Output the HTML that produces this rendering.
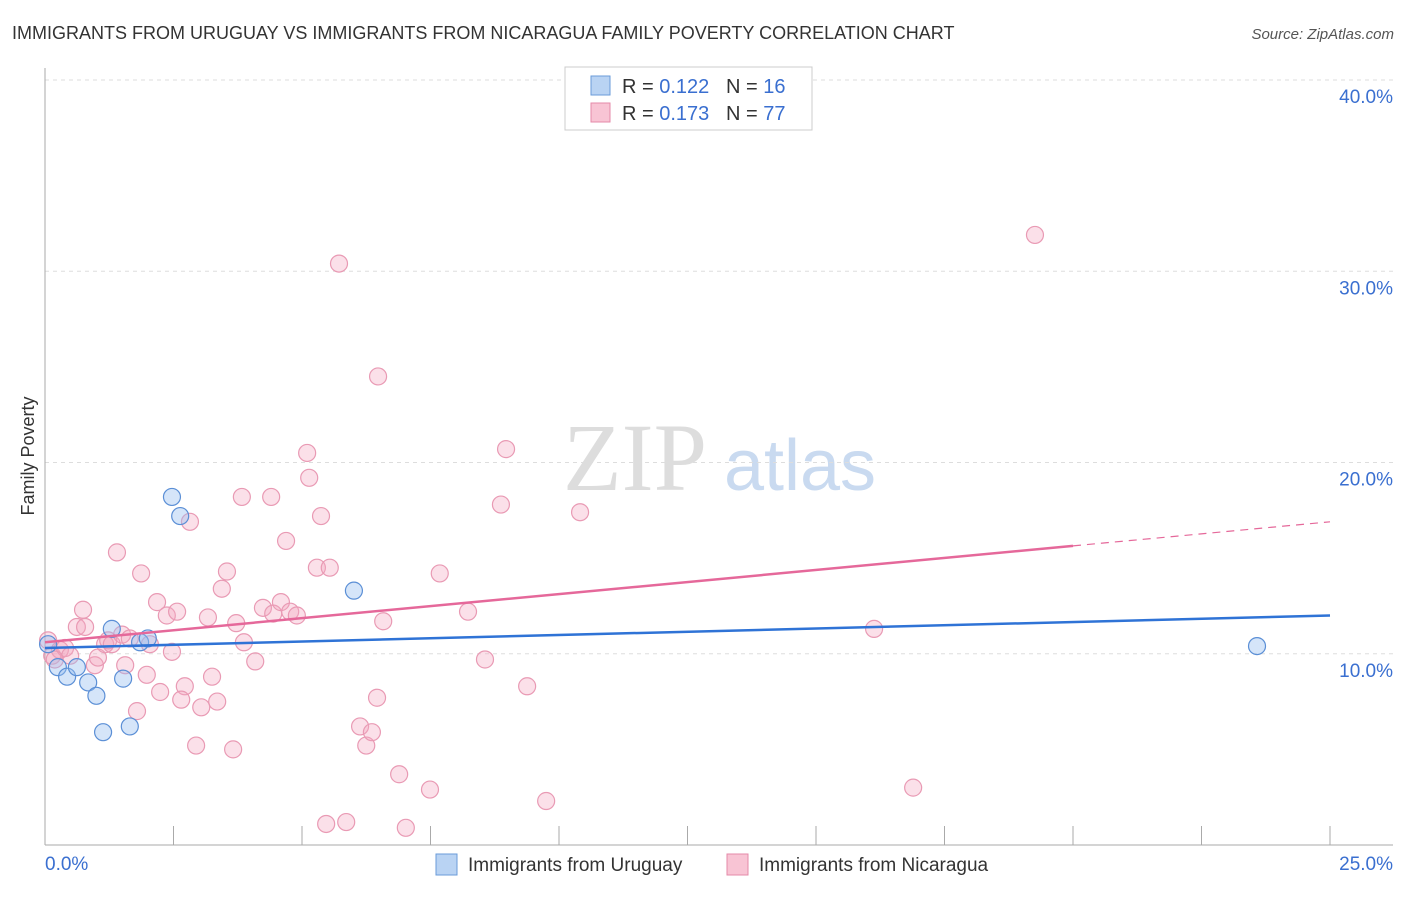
<!DOCTYPE html>
<html><head><meta charset="utf-8"><style>
body{margin:0;background:#fff;font-family:"Liberation Sans",sans-serif;}
</style></head><body>
<svg id="chart" width="1406" height="892" xmlns="http://www.w3.org/2000/svg" font-family="Liberation Sans, sans-serif">
<text x="12" y="39" font-size="18" fill="#333">IMMIGRANTS FROM URUGUAY VS IMMIGRANTS FROM NICARAGUA FAMILY POVERTY CORRELATION CHART</text>
<text x="1394" y="39" font-size="15" fill="#555" text-anchor="end" font-style="italic">Source: ZipAtlas.com</text>
<text transform="translate(34,456) rotate(-90)" font-size="18" fill="#333" text-anchor="middle">Family Poverty</text>
<g><text x="635" y="490" font-size="96" fill="#ddd" font-family="Liberation Serif, serif" text-anchor="middle">ZIP</text><text x="800" y="490" font-size="72" fill="#c9daf0" text-anchor="middle">atlas</text></g>
<g id="grid"></g><g id="axes"></g><g id="marks"></g>
<g>
<rect x="565" y="67" width="247" height="63" fill="#fff" stroke="#ccc"/>
<rect x="591" y="76" width="19" height="19" fill="#b9d3f3" stroke="#6a9bd8"/>
<rect x="591" y="103" width="19" height="19" fill="#f8c4d4" stroke="#e58aa8"/>
<text x="622" y="93" font-size="20" fill="#333">R = <tspan fill="#3a6fd0">0.122</tspan></text>
<text x="726" y="93" font-size="20" fill="#333">N = <tspan fill="#3a6fd0"> 16</tspan></text>
<text x="622" y="120" font-size="20" fill="#333">R = <tspan fill="#3a6fd0">0.173</tspan></text>
<text x="726" y="120" font-size="20" fill="#333">N = <tspan fill="#3a6fd0">77</tspan></text>
</g>
<g>
<rect x="436" y="854" width="21" height="21" fill="#b9d3f3" stroke="#6a9bd8"/>
<text x="468" y="871" font-size="19" fill="#333">Immigrants from Uruguay</text>
<rect x="727" y="854" width="21" height="21" fill="#f8c4d4" stroke="#e58aa8"/>
<text x="759" y="871" font-size="19" fill="#333">Immigrants from Nicaragua</text>
</g>
</svg>
<script>
const xTicks=[0,2.5,5,7.5,10,12.5,15,17.5,20,22.5,25];
const yTicks=[10,20,30,40];
const yTickLabels=["10.0%","20.0%","30.0%","40.0%"];
const uruguayX=[0.06,0.25,0.43,0.62,0.84,1.0,1.13,1.3,1.52,1.65,1.85,2.0,2.47,2.63,6.01,23.58];
const uruguayY=[10.5,9.3,8.8,9.3,8.5,7.8,5.9,11.3,8.7,6.2,10.6,10.8,18.2,17.2,13.3,10.4];
const nicaraguaX=[0.06,0.14,0.29,0.39,0.49,0.62,0.74,0.78,0.97,1.03,1.17,1.23,1.30,1.40,1.50,1.56,1.65,1.79,1.87,1.98,2.04,2.18,2.24,2.37,2.47,2.57,2.72,2.82,2.94,2.65,3.04,3.17,3.25,3.35,3.44,3.54,3.66,3.72,3.83,3.87,4.09,4.24,4.40,4.44,4.59,4.69,4.77,4.90,5.10,5.14,5.29,5.37,5.54,5.72,5.47,5.86,6.13,6.25,6.36,6.46,6.48,6.58,6.89,7.02,7.49,7.68,8.23,8.56,8.87,8.97,9.38,9.75,10.41,16.13,16.89,19.26,0.19];
const nicaraguaY=[10.7,9.9,10.2,10.3,9.9,11.4,12.3,11.4,9.4,9.8,10.5,10.7,10.5,15.3,11.0,9.4,10.8,7.0,14.2,8.9,10.5,12.7,8.0,12.0,10.1,12.2,8.3,16.9,5.2,7.6,7.2,11.9,8.8,7.5,13.4,14.3,5.0,11.6,18.2,10.6,9.6,12.4,18.2,12.1,12.7,15.9,12.2,12.0,20.5,19.2,14.5,17.2,14.5,30.4,1.1,1.2,6.2,5.2,5.9,7.7,24.5,11.7,3.7,0.9,2.9,14.2,12.2,9.7,17.8,20.7,8.3,2.3,17.4,11.3,3.0,31.9,9.7];
const uruguayTrend=[10.3,12.0];
const nicaraguaTrend=[10.6,16.9];
const X0=45,X1=1330,Y0=845,Y40=80;
const sx=v=>X0+(X1-X0)*v/25;
const sy=v=>Y0-(Y0-Y40)*v/40;
const NS="http://www.w3.org/2000/svg";
function mk(tag,attrs,parent){const e=document.createElementNS(NS,tag);for(const k in attrs)e.setAttribute(k,attrs[k]);document.getElementById(parent).appendChild(e);return e;}
yTicks.forEach((t,i)=>{
 const g=mk('line',{x1:X0,x2:1393,y1:sy(t),y2:sy(t),stroke:'#ddd','stroke-dasharray':'4,4'},'grid');
 
 
 const l=mk('text',{x:1393,y:sy(t)+23,'font-size':19,fill:'#3a6fd0','text-anchor':'end'},'axes');
 l.textContent=yTickLabels[i];
 
 
});
const ax=mk('line',{x1:X0,x2:X0,y1:68,y2:Y0,stroke:'#aaa'},'axes');


const bx=mk('line',{x1:X0,x2:1393,y1:Y0,y2:Y0,stroke:'#aaa'},'axes');


xTicks.forEach(t=>{const e=mk('line',{x1:sx(t),x2:sx(t),y1:Y0,y2:Y0-19,stroke:'#aaa'},'axes');
 
 });
const xl=mk('text',{x:45,y:870,'font-size':19,fill:'#3a6fd0'},'axes');xl.textContent='0.0%';


const xr=mk('text',{x:1393,y:870,'font-size':19,fill:'#3a6fd0','text-anchor':'end'},'axes');xr.textContent='25.0%';


nicaraguaX.forEach((x,i)=>{const c=mk('circle',{cx:sx(x),cy:sy(nicaraguaY[i]),r:8.5,fill:'rgba(244,167,192,0.35)',stroke:'#e99ab4','stroke-width':1.2},'marks');
 
 });
uruguayX.forEach((x,i)=>{const c=mk('circle',{cx:sx(x),cy:sy(uruguayY[i]),r:8.5,fill:'rgba(150,190,240,0.4)',stroke:'#5b8fd6','stroke-width':1.2},'marks');
 
 });
const tb=mk('line',{x1:sx(0),y1:sy(uruguayTrend[0]),x2:sx(25),y2:sy(uruguayTrend[1]),stroke:'#2f73d6','stroke-width':2.5},'marks');


const pe=nicaraguaTrend[0]+(nicaraguaTrend[1]-nicaraguaTrend[0])*20/25;
const tp=mk('line',{x1:sx(0),y1:sy(nicaraguaTrend[0]),x2:sx(20),y2:sy(pe),stroke:'#e5689a','stroke-width':2.5},'marks');


const td=mk('line',{x1:sx(20),y1:sy(pe),x2:sx(25),y2:sy(nicaraguaTrend[1]),stroke:'#e5689a','stroke-width':1.2,'stroke-dasharray':'8,6'},'marks');


</script>
</body></html>
